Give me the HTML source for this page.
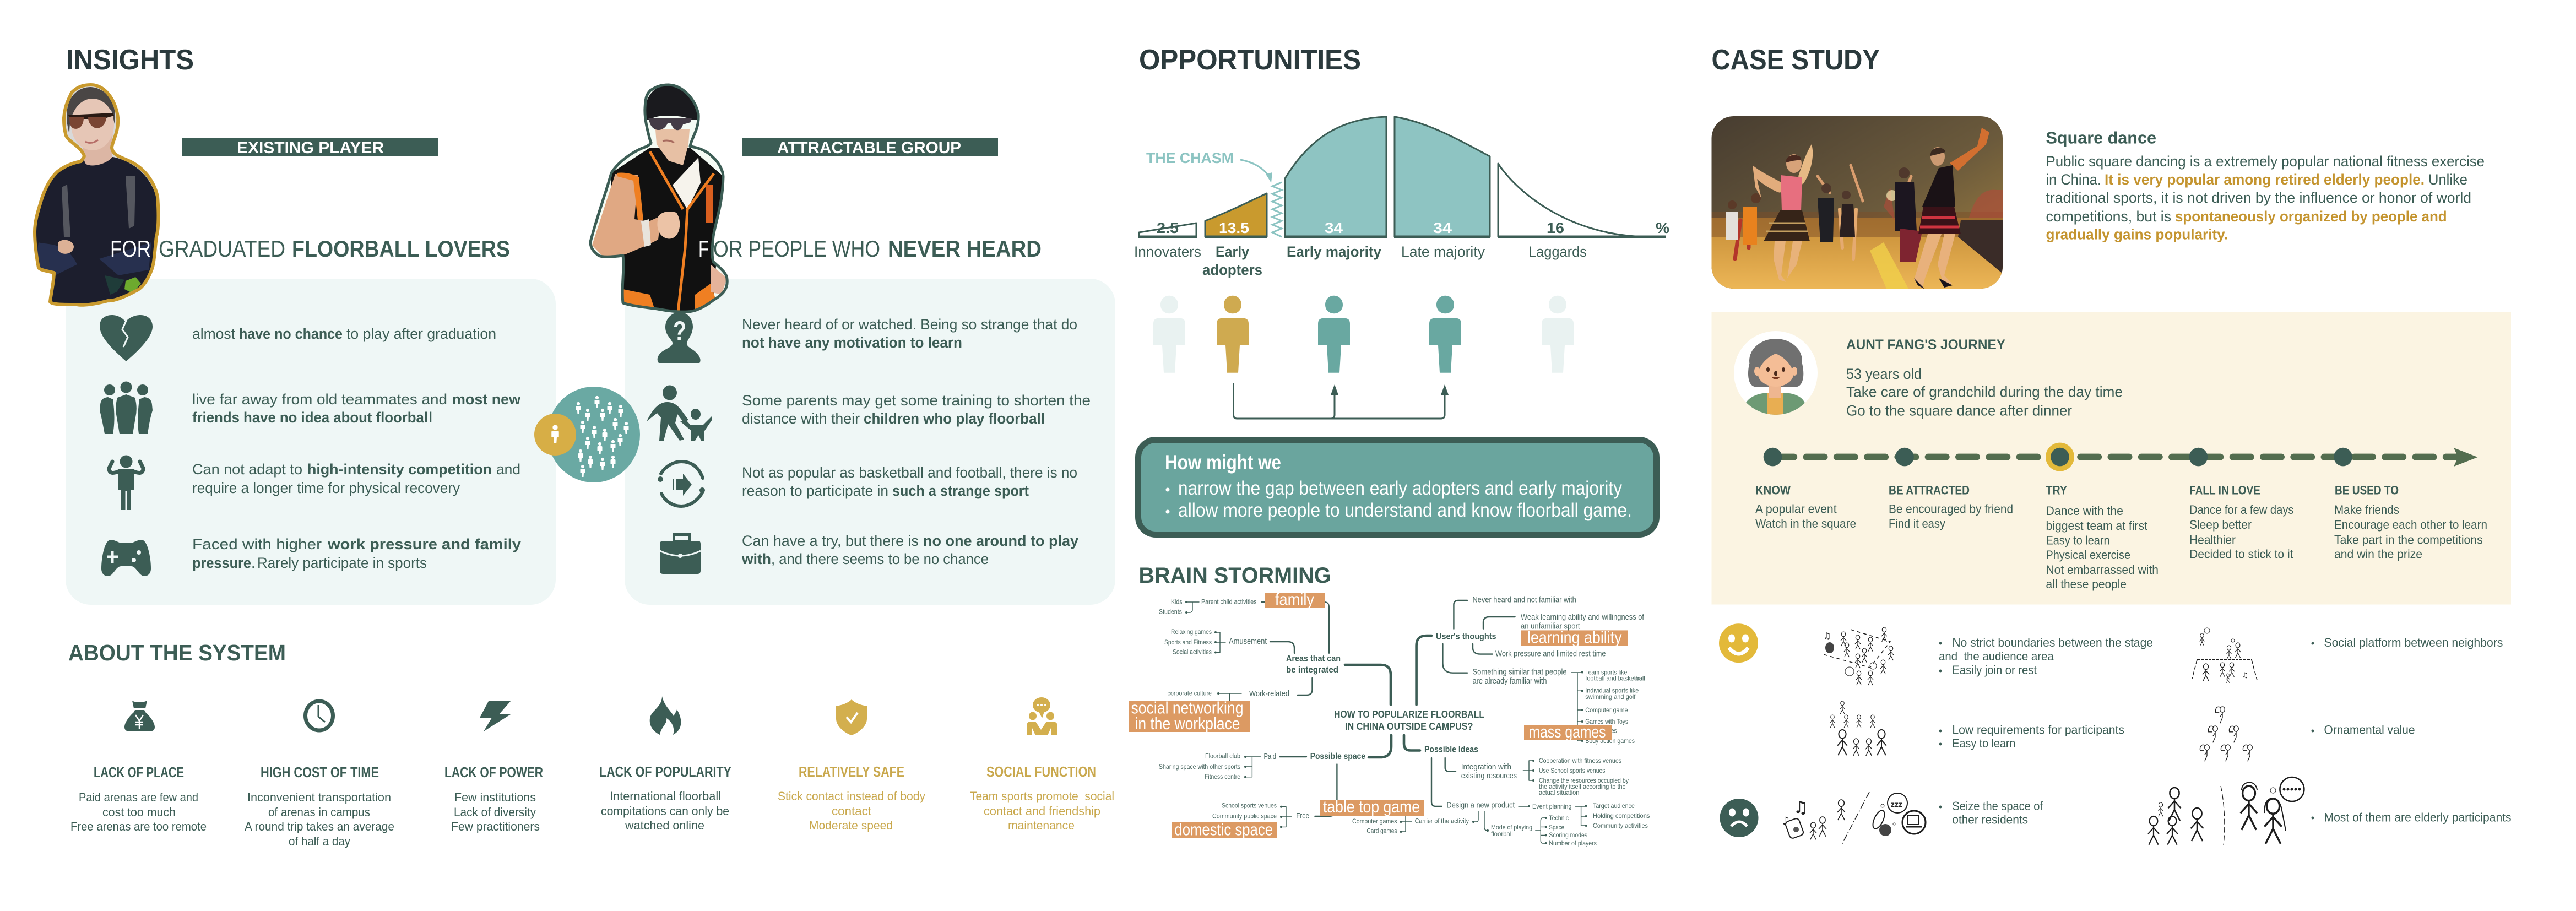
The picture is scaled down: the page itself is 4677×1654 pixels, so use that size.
<!DOCTYPE html>
<html lang="en"><head><meta charset="utf-8"><title>Floorball research board</title>
<style>
html,body{margin:0;padding:0;background:#fff}
svg{display:block}
text{font-family:"Liberation Sans",Arial,sans-serif;fill:#3c5d55;white-space:pre}
.b{font-weight:700}
.h1{font-size:52px;font-weight:700;fill:#2b3a3d}
.h2{font-size:41px}
.h3{font-size:42px}
.ban{font-size:30px;font-weight:700;fill:#fff}
.p{font-size:27px}
.t{font-size:30px;font-weight:700}
.s{font-size:22px}
.sh{font-size:31px;font-weight:700}
.go,.go *{fill:#c9a84d}
.w{fill:#fff}
.m{font-size:12px;fill:#4b6862}
.m2{font-size:14.5px;fill:#4b6862}
.mb{font-size:16px;font-weight:700}
.tag{font-size:31px;fill:#fff}
.c{fill:none;stroke:#3c5d55;stroke-linecap:round;stroke-linejoin:round}
.c1{stroke-width:1.4}.c2{stroke-width:2.4}.c3{stroke-width:4.6}
.k{fill:#3c5d55}
.o{fill:#dc9a63}
.cg{font-size:27px;font-weight:700;fill:#c4942f}
</style></head><body>
<svg xmlns="http://www.w3.org/2000/svg" width="4677" height="1654" viewBox="0 0 4677 1654">
<defs>
<g id="sp"><circle cx="0" cy="-8" r="3.1"/><path d="M-3 -4H3Q4.500 -4 4.500 -2.500V4H2L1.500 11H-1.500L-2 4H-4.500V-2.500Q-4.500 -4 -3 -4Z"/></g>
<path id="bp" d="M0 0C9 0 16 7 16 16.500C16 26 9 32.500 0 32.500C-9 32.500 -16 26 -16 16.500C-16 7 -9 0 0 0ZM-19 41H19Q29 41 29 51V90H13L10 140H-10L-13 90H-29V51Q-29 41 -19 41Z"/>
<g id="st" fill="none" stroke="#1d1d1d" stroke-width="1.800"><ellipse cx="0" cy="7" rx="6" ry="7"/><path d="M0 14V28M0 17L-8 26M0 17L8 26M0 28L-7 42M0 28L7 42"/></g>
<g id="st2" fill="none" stroke="#1d1d1d" stroke-width="1.800"><ellipse cx="0" cy="7" rx="6" ry="7"/><path d="M-5 2C-14 -3 -19 6 -17 15H-8M0 14V28M0 17L-6 26M0 28L-6 42"/></g>
<clipPath id="cw"><path d="M165 154C195 154 212 190 214 214C216 240 204 255 203 268C204 280 215 284 232 291C262 304 280 330 286 357C289 395 287 420 284 429C280 465 280 480 274 493C265 515 255 525 245 529C225 540 205 547 196 546C170 553 150 555 140 553C110 553 95 553 91 548C93 530 98 510 98 495C85 492 72 490 70 486C65 460 63 440 63 421C63 400 70 380 77 357C85 335 95 320 105 311C120 300 135 295 147 293C152 285 155 285 151 279C145 265 120 255 119 243C116 230 116 222 116 214C118 190 125 180 130 168C140 158 150 154 165 154Z"/></clipPath>
<clipPath id="cm"><path d="M1214 154C1240 155 1262 180 1268 207C1270 235 1255 250 1253 266C1270 268 1285 275 1295 286C1305 295 1313 310 1313 321C1312 370 1300 400 1295 429C1293 450 1292 465 1295 475C1305 485 1320 495 1320 507C1322 525 1312 535 1295 545C1285 553 1265 566 1248 566C1230 567 1210 564 1194 561C1170 558 1145 555 1131 550C1128 520 1134 490 1131 464C1115 466 1095 468 1087 464C1075 455 1072 448 1072 439C1085 390 1100 350 1110 314C1125 290 1155 272 1174 266C1180 262 1184 260 1181 257C1175 235 1170 215 1171 196C1172 175 1175 170 1181 164C1192 157 1200 154 1214 154Z"/></clipPath>
<clipPath id="cp"><rect x="3107.500" y="211" width="528.500" height="313" rx="40"/></clipPath>
<clipPath id="ca"><circle cx="3224" cy="677" r="76"/></clipPath>
<linearGradient id="sky" x1="0" y1="0" x2="1" y2="1"><stop offset="0" stop-color="#463c30"/><stop offset=".55" stop-color="#6b5a3c"/><stop offset="1" stop-color="#a8853f"/></linearGradient>
<linearGradient id="gr" x1="0" y1="0" x2="0" y2="1"><stop offset="0" stop-color="#c48b36"/><stop offset="1" stop-color="#eeb858"/></linearGradient>
</defs>

<rect width="4677" height="1654" fill="#fff"/>

<!-- INSIGHTS -->
<text class="h1" x="120" y="126" textLength="232" lengthAdjust="spacingAndGlyphs">INSIGHTS</text>
<rect x="119" y="506" width="890" height="592" rx="46" fill="#eff7f6"/>
<rect x="1134" y="506" width="891" height="592" rx="46" fill="#eff7f6"/>

<!-- woman -->
<g clip-path="url(#cw)">
<rect x="60" y="150" width="230" height="410" fill="#d9d9d9"/>
<path d="M147 290L205 285C240 292 282 320 288 380V560H60V400C70 340 100 300 147 290Z" fill="#1c1e2d"/>
<path d="M112 340L122 335L128 430H116ZM228 320L246 320L244 410L234 415Z" fill="#55575f"/>
<path d="M70 440C85 445 120 438 140 480L100 500H60Z" fill="#27304f"/>
<path d="M180 470L275 440L270 490L215 500Z" fill="#27304f"/>
<path d="M106 440C113 432 133 435 134 448C133 462 113 465 106 455Z" fill="#dcb196"/>
<path d="M150 240C150 262 148 285 156 298C170 305 196 296 204 285C202 265 205 245 205 232Z" fill="#dcb6a4"/>
<path d="M122 225C116 178 140 158 165 158C195 160 214 190 208 225L202 200C190 190 160 188 140 198C128 205 126 225 126 245Z" fill="#4a4645"/>
<ellipse cx="168" cy="226" rx="39" ry="47" fill="#e6c6b6"/>
<path d="M124 209L205 205L207 210L193 214L160 216L150 216L126 214Z" fill="#2a1a14"/>
<path d="M126 213H152C152 232 140 236 133 233C127 230 126 222 126 213ZM160 213H193C192 230 178 236 170 231C163 227 160 220 160 213Z" fill="#7a4533"/>
<path d="M155 257Q166 263 178 254" stroke="#b66d68" stroke-width="3" fill="none"/>
<path d="M228 510L246 503L256 515L240 532L226 525Z" fill="#6daa2e"/>
<path d="M190 500L226 508L212 530L200 535Z" fill="#1f3c39"/>
</g>
<path class="c" style="stroke:#c99a2e;stroke-width:6" d="M165 154C195 154 212 190 214 214C216 240 204 255 203 268C204 280 215 284 232 291C262 304 280 330 286 357C289 395 287 420 284 429C280 465 280 480 274 493C265 515 255 525 245 529C225 540 205 547 196 546C170 553 150 555 140 553C110 553 95 553 91 548C93 530 98 510 98 495C85 492 72 490 70 486C65 460 63 440 63 421C63 400 70 380 77 357C85 335 95 320 105 311C120 300 135 295 147 293C152 285 155 285 151 279C145 265 120 255 119 243C116 230 116 222 116 214C118 190 125 180 130 168C140 158 150 154 165 154Z"/>

<rect x="331" y="250" width="465" height="34" fill="#3c5d55"/>
<text class="ban" x="430" y="278" textLength="267" lengthAdjust="spacingAndGlyphs">EXISTING PLAYER</text>
<text class="h3 w" x="200" y="466" textLength="74" lengthAdjust="spacingAndGlyphs">FOR</text>
<text class="h3" x="288" y="466" textLength="230" lengthAdjust="spacingAndGlyphs">GRADUATED</text>
<text class="h3 b" x="530" y="466" textLength="396" lengthAdjust="spacingAndGlyphs">FLOORBALL LOVERS</text>

<!-- left icons -->
<path class="k" d="M229 656C205 635 181 612 181 592C181 578 192 572 203 572C214 572 222 577 228 584C234 577 244 572 255 572C268 572 277 580 277 593C277 612 252 636 229 656Z"/>
<path d="M230 580L222 598L232 612L224 630" fill="none" stroke="#eff7f6" stroke-width="3"/>
<g class="k">
<circle cx="199" cy="708" r="10"/><circle cx="229" cy="703" r="10.500"/><circle cx="259" cy="708" r="10"/>
<path d="M182 735Q183 722 196 721L205 725Q210 760 205 788H190Q185 760 181 745Z"/>
<path d="M213 722L229 716L245 722Q250 740 246 758L241 788H217L212 758Q208 740 213 722Z"/>
<path d="M276 735Q275 722 262 721L253 725Q248 760 252 788H268Q272 760 277 745Z"/>
<circle cx="229" cy="838" r="11.500"/>
<path d="M215 851H243V890H238V926H230.500V892H227.500V926H220V890H215Z"/>
</g>
<path class="c" style="stroke-width:7" d="M215 856C205 860 198 860 198 850L204 838M243 856C253 860 260 860 260 850L254 838"/>
<path class="k" d="M200 980C210 980 215 986 222 986H236C243 986 248 980 258 980C268 982 274 1012 274 1032C274 1042 268 1046 262 1046C252 1046 248 1028 238 1028H220C210 1028 206 1046 196 1046C190 1046 184 1042 184 1032C184 1012 190 982 200 980Z"/>
<path d="M204 1000V1022M194 1011H215" stroke="#eff7f6" stroke-width="5"/>
<circle cx="252" cy="1003" r="4" fill="#eff7f6"/><circle cx="243" cy="1017" r="4" fill="#eff7f6"/>

<!-- left text -->
<text class="p" x="349" y="615" textLength="78" lengthAdjust="spacingAndGlyphs">almost</text>
<text class="p b" x="434" y="615" textLength="188" lengthAdjust="spacingAndGlyphs">have no chance</text>
<text class="p" x="629" y="615" textLength="272" lengthAdjust="spacingAndGlyphs">to play after graduation</text>
<text class="p" x="349" y="734" textLength="463" lengthAdjust="spacingAndGlyphs">live far away from old teammates and</text>
<text class="p b" x="821" y="734" textLength="124" lengthAdjust="spacingAndGlyphs">most new</text>
<text class="p b" x="349" y="767" textLength="428" lengthAdjust="spacingAndGlyphs">friends have no idea about floorbal</text>
<text class="p" x="779" y="767">l</text>
<text class="p" x="349" y="861" textLength="200" lengthAdjust="spacingAndGlyphs">Can not adapt to</text>
<text class="p b" x="558" y="861" textLength="335" lengthAdjust="spacingAndGlyphs">high-intensity competition</text>
<text class="p" x="901" y="861" textLength="44" lengthAdjust="spacingAndGlyphs">and</text>
<text class="p" x="349" y="895" textLength="486" lengthAdjust="spacingAndGlyphs">require a longer time for physical recovery</text>
<text class="p" x="349" y="997" textLength="235" lengthAdjust="spacingAndGlyphs">Faced with higher</text>
<text class="p b" x="595" y="997" textLength="351" lengthAdjust="spacingAndGlyphs">work pressure and family</text>
<text class="p b" x="349" y="1031" textLength="107" lengthAdjust="spacingAndGlyphs">pressure</text>
<text class="p" x="456" y="1031">.</text>
<text class="p" x="467" y="1031" textLength="308" lengthAdjust="spacingAndGlyphs">Rarely participate in sports</text>

<!-- centre circle -->
<ellipse cx="1078" cy="789" rx="84" ry="87" fill="#6aa9a3"/>
<ellipse cx="1008" cy="789" rx="38" ry="38" fill="#d7ae46"/>
<g fill="#fff">
<use href="#sp" transform="translate(1008 788) scale(1.500)"/>
<use href="#sp" x="1084" y="730"/><use href="#sp" x="1050" y="741"/><use href="#sp" x="1067" y="753"/><use href="#sp" x="1107" y="741"/><use href="#sp" x="1127" y="746"/><use href="#sp" x="1094" y="753"/><use href="#sp" x="1117" y="770"/><use href="#sp" x="1058" y="775"/><use href="#sp" x="1137" y="777"/><use href="#sp" x="1079" y="784"/><use href="#sp" x="1098" y="789"/><use href="#sp" x="1067" y="804"/><use href="#sp" x="1126" y="799"/><use href="#sp" x="1113" y="810"/><use href="#sp" x="1089" y="814"/><use href="#sp" x="1054" y="827"/><use href="#sp" x="1072" y="838"/><use href="#sp" x="1094" y="842"/><use href="#sp" x="1113" y="838"/><use href="#sp" x="1058" y="855"/>
</g>

<!-- man -->
<g clip-path="url(#cm)">
<rect x="1070" y="150" width="255" height="420" fill="#f4fbf4"/>
<path d="M1110 314L1180 268L1253 268L1313 320L1295 545L1250 570H1131V464L1110 400Z" fill="#111"/>
<path d="M1221 336L1268 286L1272 332L1248 380Z" fill="#f6f3ec"/>
<path d="M1180 275L1240 380M1296 315L1248 380" stroke="#ef7f22" stroke-width="5" fill="none"/>
<path d="M1117 316L1158 318L1152 398L1178 402L1200 392L1195 435L1175 445L1135 462L1095 466L1075 445Z" fill="#e0a883"/>
<path d="M1120 314C1135 312 1150 316 1160 322L1168 400L1158 400L1150 328L1120 320Z" fill="#ef7f22"/>
<path d="M1248 380L1244 450L1231 566" stroke="#ef7f22" stroke-width="5" fill="none"/>
<path d="M1194 400C1192 388 1210 380 1228 386C1238 400 1236 425 1222 432C1208 438 1190 425 1194 400Z" fill="#ecc3a6"/>
<path d="M1164 402L1178 398L1182 445L1170 448Z" fill="#e8e4dc"/>
<rect x="1282" y="335" width="12" height="70" fill="#d95f1f"/>
<path d="M1131 525L1180 535L1190 566H1131ZM1262 535L1290 515L1300 545L1262 566Z" fill="#ef7f22"/>
<path d="M1290 480L1320 505L1310 535L1290 530Z" fill="#e5b39a"/>
<path d="M1190 235L1252 235L1250 262L1240 300L1214 292L1192 262Z" fill="#e7c0a4"/>
<path d="M1172 218C1166 175 1190 154 1214 154C1245 154 1268 180 1266 218H1254C1250 210 1190 205 1180 218Z" fill="#1a1a1e"/>
<path d="M1177 214H1256L1254 222L1240 226C1236 240 1224 240 1218 224H1212C1205 240 1186 240 1180 224Z" fill="#443c46"/>
<path d="M1203 256Q1214 253 1224 259" stroke="#a76a5e" stroke-width="3" fill="none"/>
</g>
<path class="c" style="stroke-width:5" d="M1214 154C1240 155 1262 180 1268 207C1270 235 1255 250 1253 266C1270 268 1285 275 1295 286C1305 295 1313 310 1313 321C1312 370 1300 400 1295 429C1293 450 1292 465 1295 475C1305 485 1320 495 1320 507C1322 525 1312 535 1295 545C1285 553 1265 566 1248 566C1230 567 1210 564 1194 561C1170 558 1145 555 1131 550C1128 520 1134 490 1131 464C1115 466 1095 468 1087 464C1075 455 1072 448 1072 439C1085 390 1100 350 1110 314C1125 290 1155 272 1174 266C1180 262 1184 260 1181 257C1175 235 1170 215 1171 196C1172 175 1175 170 1181 164C1192 157 1200 154 1214 154Z"/>

<rect x="1347" y="250" width="465" height="34" fill="#3c5d55"/>
<text class="ban" x="1411" y="278" textLength="334" lengthAdjust="spacingAndGlyphs">ATTRACTABLE GROUP</text>
<text class="h3 w" x="1268" y="466" textLength="19" lengthAdjust="spacingAndGlyphs">F</text>
<text class="h3" x="1295" y="466" textLength="303" lengthAdjust="spacingAndGlyphs">OR PEOPLE WHO</text>
<text class="h3 b" x="1612" y="466" textLength="279" lengthAdjust="spacingAndGlyphs">NEVER HEARD</text>

<!-- right icons -->
<path class="k" d="M1234 567C1250 567 1258 580 1258 594C1257 608 1250 614 1247 622C1246 630 1256 632 1264 640C1272 648 1273 655 1270 659H1196C1192 654 1193 647 1200 640C1210 632 1222 630 1221 622C1218 614 1208 608 1208 594C1208 580 1218 567 1234 567Z"/>
<text x="1222" y="618" class="b" style="font-size:50px;fill:#eff7f6" textLength="24" lengthAdjust="spacingAndGlyphs">?</text>
<g class="k">
<ellipse cx="1216" cy="713" rx="13" ry="13.500"/>
<path d="M1174 765C1184 745 1195 729 1213 730C1232 731 1238 748 1250 762L1242 768L1230 752L1226 768L1242 798L1234 800L1213 770L1205 800H1197L1200 758L1193 750Z"/>
<ellipse cx="1263" cy="752" rx="9" ry="10"/>
<path d="M1235 765L1245 762L1254 772L1276 772L1292 756L1293 762L1278 784L1279 800H1273L1268 790L1262 800H1255V782Z"/>
</g>
<path class="c" style="stroke-width:6" d="M1200 860C1208 846 1224 838 1237 838C1254 838 1268 846 1276 868M1276 892C1268 910 1250 919 1237 919C1220 919 1206 908 1201 896"/>
<circle cx="1199" cy="870" r="5" class="k"/><circle cx="1275" cy="890" r="5" class="k"/>
<path class="k" d="M1221 870H1224V890H1221ZM1228 870H1240V860L1256 880L1240 900V890H1228Z"/>
<path class="k" d="M1221 968H1254V982H1268Q1272 982 1272 988V1036Q1272 1042 1266 1042H1204Q1198 1042 1198 1036V988Q1198 982 1204 982H1221Z"/>
<rect x="1226" y="974" width="24" height="7" fill="#eff7f6"/>
<path d="M1198 1000Q1235 1018 1272 1000" fill="none" stroke="#eff7f6" stroke-width="3"/>
<circle cx="1235" cy="1009" r="4" fill="#eff7f6"/>

<!-- right text -->
<text class="p" x="1347" y="598" textLength="609" lengthAdjust="spacingAndGlyphs">Never heard of or watched. Being so strange that do</text>
<text class="p b" x="1347" y="631" textLength="400" lengthAdjust="spacingAndGlyphs">not have any motivation to learn</text>
<text class="p" x="1347" y="736" textLength="633" lengthAdjust="spacingAndGlyphs">Some parents may get some training to shorten the</text>
<text class="p" x="1347" y="769" textLength="214" lengthAdjust="spacingAndGlyphs">distance with their</text>
<text class="p b" x="1568" y="769" textLength="329" lengthAdjust="spacingAndGlyphs">children who play floorball</text>
<text class="p" x="1347" y="867" textLength="609" lengthAdjust="spacingAndGlyphs">Not as popular as basketball and football, there is no</text>
<text class="p" x="1347" y="900" textLength="266" lengthAdjust="spacingAndGlyphs">reason to participate in</text>
<text class="p b" x="1620" y="900" textLength="248" lengthAdjust="spacingAndGlyphs">such a strange sport</text>
<text class="p" x="1347" y="991" textLength="321" lengthAdjust="spacingAndGlyphs">Can have a try, but there is</text>
<text class="p b" x="1676" y="991" textLength="282" lengthAdjust="spacingAndGlyphs">no one around to play</text>
<text class="p b" x="1347" y="1024" textLength="53" lengthAdjust="spacingAndGlyphs">with</text>
<text class="p" x="1400" y="1024" textLength="395" lengthAdjust="spacingAndGlyphs">, and there seems to be no chance</text>

<!-- ABOUT THE SYSTEM -->
<text class="h2 b" x="124" y="1199" textLength="395" lengthAdjust="spacingAndGlyphs">ABOUT THE SYSTEM</text>
<path class="k" d="M240 1272C246 1276 260 1276 267 1272L264 1286H243ZM245 1289H262L264 1293C272 1300 281 1312 281 1320C281 1326 277 1328 270 1328H236C230 1328 226 1326 226 1320C226 1312 235 1300 243 1293Z"/>
<path d="M246 1298L253 1309L260 1298M253 1309V1323M246 1311H260M246 1316H260" stroke="#fff" stroke-width="2.500" fill="none"/>
<ellipse cx="579.500" cy="1299.500" rx="25" ry="26.500" fill="none" stroke="#3c5d55" stroke-width="7"/>
<path d="M578 1280V1301L590 1311" fill="none" stroke="#3c5d55" stroke-width="3"/>
<path class="k" d="M887 1273H927L906 1297H927L878 1328L893 1303H871Z"/>
<path class="k" d="M1202 1264C1206 1282 1218 1290 1223 1300C1226 1294 1228 1292 1229 1288C1236 1300 1238 1310 1235 1320C1232 1328 1226 1332 1222 1334C1226 1322 1220 1310 1210 1304C1212 1314 1200 1320 1198 1334C1186 1328 1178 1318 1180 1304C1182 1290 1202 1284 1202 1264Z"/>
<path d="M1546 1270C1552 1276 1562 1280 1574 1282V1305C1574 1318 1560 1330 1546 1335C1532 1330 1518 1318 1518 1305V1282C1530 1280 1540 1276 1546 1270Z" fill="#d3af4e"/>
<path d="M1537 1302L1545 1311L1557 1294" fill="none" stroke="#fff" stroke-width="4"/>
<g fill="#d3af4e">
<ellipse cx="1891" cy="1280" rx="16" ry="14"/><path d="M1886 1292L1892 1304L1896 1292Z"/>
<ellipse cx="1875" cy="1300" rx="7" ry="7.500"/><ellipse cx="1907" cy="1300" rx="7" ry="7.500"/>
<path d="M1864 1335V1318Q1864 1310 1872 1310L1880 1310L1890 1325L1900 1310H1910Q1920 1310 1920 1318V1335H1908V1322L1902 1335H1880L1874 1322V1335Z"/>
</g>
<g fill="#fff"><circle cx="1884" cy="1280" r="2"/><circle cx="1891" cy="1280" r="2"/><circle cx="1898" cy="1280" r="2"/></g>

<text class="t" style="font-size:26px" x="170" y="1411" textLength="164" lengthAdjust="spacingAndGlyphs">LACK OF PLACE</text>
<text class="t" style="font-size:26px" x="473" y="1411" textLength="215" lengthAdjust="spacingAndGlyphs">HIGH COST OF TIME</text>
<text class="t" style="font-size:26px" x="807" y="1411" textLength="179" lengthAdjust="spacingAndGlyphs">LACK OF POWER</text>
<text class="t" style="font-size:26px" x="1088" y="1410" textLength="240" lengthAdjust="spacingAndGlyphs">LACK OF POPULARITY</text>
<text class="t go" style="font-size:26px" x="1450" y="1410" textLength="192" lengthAdjust="spacingAndGlyphs">RELATIVELY SAFE</text>
<text class="t go" style="font-size:26px" x="1791" y="1410" textLength="199" lengthAdjust="spacingAndGlyphs">SOCIAL FUNCTION</text>

<text class="s" x="143" y="1455" textLength="217" lengthAdjust="spacingAndGlyphs">Paid arenas are few and</text>
<text class="s" x="186" y="1482" textLength="133" lengthAdjust="spacingAndGlyphs">cost too much</text>
<text class="s" x="128" y="1508" textLength="247" lengthAdjust="spacingAndGlyphs">Free arenas are too remote</text>
<text class="s" x="449" y="1455" textLength="261" lengthAdjust="spacingAndGlyphs">Inconvenient transportation</text>
<text class="s" x="487" y="1482" textLength="185" lengthAdjust="spacingAndGlyphs">of arenas in campus</text>
<text class="s" x="444" y="1508" textLength="272" lengthAdjust="spacingAndGlyphs">A round trip takes an average</text>
<text class="s" x="524" y="1535" textLength="112" lengthAdjust="spacingAndGlyphs">of half a day</text>
<text class="s" x="825" y="1455" textLength="148" lengthAdjust="spacingAndGlyphs">Few institutions</text>
<text class="s" x="824" y="1482" textLength="149" lengthAdjust="spacingAndGlyphs">Lack of diversity</text>
<text class="s" x="819" y="1508" textLength="161" lengthAdjust="spacingAndGlyphs">Few practitioners</text>
<text class="s" x="1107" y="1453" textLength="202" lengthAdjust="spacingAndGlyphs">International floorball</text>
<text class="s" x="1091" y="1480" textLength="233" lengthAdjust="spacingAndGlyphs">compitations can only be</text>
<text class="s" x="1135" y="1506" textLength="144" lengthAdjust="spacingAndGlyphs">watched online</text>
<text class="s go" x="1412" y="1453" textLength="268" lengthAdjust="spacingAndGlyphs">Stick contact instead of body</text>
<text class="s go" x="1510" y="1480" textLength="72" lengthAdjust="spacingAndGlyphs">contact</text>
<text class="s go" x="1469" y="1506" textLength="152" lengthAdjust="spacingAndGlyphs">Moderate speed</text>
<text class="s go" x="1761" y="1453" textLength="262" lengthAdjust="spacingAndGlyphs">Team sports promote  social</text>
<text class="s go" x="1786" y="1480" textLength="212" lengthAdjust="spacingAndGlyphs">contact and friendship</text>
<text class="s go" x="1830" y="1506" textLength="121" lengthAdjust="spacingAndGlyphs">maintenance</text>

<!-- OPPORTUNITIES -->
<text class="h1" x="2068" y="126" textLength="403" lengthAdjust="spacingAndGlyphs">OPPORTUNITIES</text>
<g stroke="#3c5d55" stroke-width="3" stroke-linejoin="round">
<path d="M2068 430V422L2172 405V430Z" fill="#fff"/>
<path d="M2188 430V401C2230 385 2270 365 2300 351V430Z" fill="#c99a2e"/>
<path d="M2333 430V324C2375 255 2430 215 2517 212V430Z" fill="#8ec4c2"/>
<path d="M2532 430V212C2595 222 2660 260 2705 284V430Z" fill="#8ec4c2"/>
<path d="M2720 430V297C2755 350 2850 428 2990 430" fill="#fff"/>
</g>
<path d="M2067 430H2173M2187 430H2301M2332 430H2518M2531 430H2706M2719 430H3024" stroke="#3c5d55" stroke-width="5" fill="none"/>
<path d="M2327 331L2310 338L2327 345L2310 352L2327 359L2310 366L2327 373L2310 380L2327 387L2310 394L2327 401L2310 408L2327 415L2310 422L2327 430" fill="none" stroke="#8cc4c2" stroke-width="3"/>
<path d="M2252 290C2280 295 2300 310 2306 325" fill="none" stroke="#8cc4c2" stroke-width="3"/>
<path d="M2308 332L2298 316L2310 313Z" fill="#8cc4c2"/>
<text class="b" style="font-size:27px;fill:#8cc4c2" x="2081" y="296" textLength="159" lengthAdjust="spacingAndGlyphs">THE CHASM</text>
<g class="b" style="font-size:27px">
<text x="2100" y="423" textLength="40" lengthAdjust="spacingAndGlyphs">2.5</text>
<text class="w" x="2213" y="423" textLength="55" lengthAdjust="spacingAndGlyphs">13.5</text>
<text class="w" x="2405" y="423" textLength="33" lengthAdjust="spacingAndGlyphs">34</text>
<text class="w" x="2602" y="423" textLength="34" lengthAdjust="spacingAndGlyphs">34</text>
<text x="2808" y="423" textLength="32" lengthAdjust="spacingAndGlyphs">16</text>
<text x="3006" y="423" textLength="25" lengthAdjust="spacingAndGlyphs">%</text>
</g>
<text class="p" x="2059" y="466" textLength="122" lengthAdjust="spacingAndGlyphs">Innovaters</text>
<text class="p b" x="2207" y="466" textLength="61" lengthAdjust="spacingAndGlyphs">Early</text>
<text class="p b" x="2183" y="499" textLength="109" lengthAdjust="spacingAndGlyphs">adopters</text>
<text class="p b" x="2336" y="466" textLength="172" lengthAdjust="spacingAndGlyphs">Early majority</text>
<text class="p" x="2544" y="466" textLength="152" lengthAdjust="spacingAndGlyphs">Late majority</text>
<text class="p" x="2775" y="466" textLength="106" lengthAdjust="spacingAndGlyphs">Laggards</text>

<use href="#bp" x="2123" y="536.700" fill="#e9f2f1"/>
<use href="#bp" x="2238" y="536.700" fill="#cfaa50"/>
<use href="#bp" x="2422" y="536.700" fill="#69a8a1"/>
<use href="#bp" x="2624" y="536.700" fill="#69a8a1"/>
<use href="#bp" x="2828" y="536.700" fill="#e9f2f1"/>

<path class="c" style="stroke-width:3" d="M2239.500 697V753Q2239.500 760 2246 760H2616Q2623 760 2623 753V713M2423 713V753Q2423 760 2416 760"/>
<path class="k" d="M2423 698L2430 717H2416ZM2623 698L2630 717H2616Z"/>

<rect x="2066.500" y="798.500" width="941" height="172" rx="32" fill="#6aa59e" stroke="#3c5d55" stroke-width="11"/>
<text class="w b" style="font-size:37px" x="2115" y="852" textLength="211" lengthAdjust="spacingAndGlyphs">How might we</text>
<circle cx="2120" cy="889" r="3.500" fill="#fff"/><circle cx="2120" cy="929" r="3.500" fill="#fff"/>
<text class="w" style="font-size:35px" x="2139" y="898" textLength="806" lengthAdjust="spacingAndGlyphs">narrow the gap between early adopters and early majority</text>
<text class="w" style="font-size:35px" x="2139" y="938" textLength="824" lengthAdjust="spacingAndGlyphs">allow more people to understand and know floorball game.</text>

<!-- BRAIN STORMING -->
<text class="b" style="font-size:40px" x="2067.500" y="1058" textLength="349" lengthAdjust="spacingAndGlyphs">BRAIN STORMING</text>

<!-- connectors -->
<g class="c c1" fill="none">
<path d="M2154 1093H2177M2165 1093V1107Q2165 1112 2160 1112H2154"/>
<path d="M2207 1148H2215V1184.500H2207M2207 1166H2225"/>
<path d="M2212 1259H2254M2232.400 1259V1272"/>
<path d="M2261 1374H2288.500M2273.400 1374V1410.700H2261M2261 1392H2273.400"/>
<path d="M2326 1464.700H2335V1501.400H2326M2326 1483H2344.600"/>
<path d="M2543.500 1492H2562.800M2552 1475V1510H2543.500"/>
<path d="M2675 1492H2680Q2684 1492 2684 1488V1472.700"/>
<path d="M2695 1472.700V1503Q2695 1508 2701 1508"/>
<path d="M2853.400 1221H2872.700M2864 1221V1345M2864 1254.200H2872.700M2864 1289H2872.700M2864 1310H2872.700M2864 1345H2872.700"/>
<path d="M2765.400 1399H2784M2780 1381H2776V1417H2784M2776 1381H2784"/>
<path d="M2757 1464H2776"/>
<path d="M2860.400 1464H2879.700M2870.600 1464V1499H2879.700M2870.600 1482H2879.700"/>
<path d="M2787.800 1508H2797.300M2806.700 1485H2801Q2797.300 1485 2797.300 1490V1526Q2797.300 1531 2801 1531H2806.700M2797.300 1501.400H2806.700M2797.300 1516.400H2806.700"/>
</g>
<g class="k">
<circle cx="2154" cy="1093" r="2"/><circle cx="2154" cy="1112" r="2"/><circle cx="2291" cy="1093" r="2"/>
<circle cx="2207" cy="1148" r="2"/><circle cx="2207" cy="1166" r="2"/><circle cx="2207" cy="1184.500" r="2"/>
<circle cx="2212" cy="1259" r="2"/><circle cx="2261" cy="1374" r="2"/><circle cx="2261" cy="1392" r="2"/><circle cx="2261" cy="1410.700" r="2"/>
<circle cx="2326" cy="1464.700" r="2"/><circle cx="2326" cy="1483" r="2"/><circle cx="2326" cy="1501.400" r="2"/>
<circle cx="2543.500" cy="1492" r="2"/><circle cx="2543.500" cy="1510" r="2"/><circle cx="2675" cy="1492" r="2"/><circle cx="2701" cy="1508" r="2"/>
<circle cx="2872.700" cy="1220.500" r="2"/><circle cx="2872.700" cy="1254.200" r="2"/><circle cx="2872.700" cy="1289" r="2"/><circle cx="2872.700" cy="1310" r="2"/><circle cx="2872.700" cy="1345" r="2"/>
<circle cx="2784" cy="1381" r="2"/><circle cx="2784" cy="1399" r="2"/><circle cx="2784" cy="1417" r="2"/>
<circle cx="2776" cy="1464" r="2"/><circle cx="2879.700" cy="1463" r="2"/><circle cx="2879.700" cy="1482" r="2"/><circle cx="2879.700" cy="1499" r="2"/>
<circle cx="2806.700" cy="1485" r="2"/><circle cx="2806.700" cy="1501.400" r="2"/><circle cx="2806.700" cy="1516.400" r="2"/><circle cx="2806.700" cy="1531" r="2"/>
</g>
<g class="c c2" fill="none">
<path d="M2291 1093H2404Q2413 1093 2413 1102V1186" style="stroke-width:2"/>
<path d="M2306 1165H2338Q2350 1165 2350 1177V1186"/>
<path d="M2382.500 1231V1252Q2382.500 1262 2372 1262H2356"/>
<path d="M2323.600 1374H2372"/>
<path d="M2427.400 1387.400V1468Q2427.400 1482 2412 1482H2387.400"/>
<path d="M2639.400 1141.700V1098Q2639.400 1090 2648 1090H2664"/>
<path d="M2693 1141.700V1130Q2693 1120 2704 1120H2750.600"/>
<path d="M2674 1169V1176Q2674 1187.600 2688 1187.600H2709.600"/>
<path d="M2619.400 1169V1204Q2619.400 1221.700 2638 1221.700H2664"/>
<path d="M2623.700 1376V1394Q2623.700 1400.800 2632 1400.800H2643"/>
<path d="M2599 1376V1456Q2599 1464 2607 1464H2617.700"/>
</g>
<g class="c c3" fill="none">
<path d="M2442 1207H2507Q2525 1207 2525 1225V1279.500"/>
<path d="M2571.600 1279.500V1172Q2571.600 1154 2590 1154H2599"/>
<path d="M2526 1334.600V1355Q2526 1375 2506 1375H2485"/>
<path d="M2549 1334.600V1350Q2549 1362.500 2561 1362.500H2578"/>
</g>

<!-- mind map labels -->
<g class="m">
<text class="m" x="2126" y="1096.500" textLength="20.500" lengthAdjust="spacingAndGlyphs">Kids</text>
<text class="m" x="2104" y="1114.500" textLength="42" lengthAdjust="spacingAndGlyphs">Students</text>
<text class="m" x="2181" y="1096.500" textLength="100.500" lengthAdjust="spacingAndGlyphs">Parent child activities</text>
<text class="m" x="2126" y="1151" textLength="74" lengthAdjust="spacingAndGlyphs">Relaxing games</text>
<text class="m" x="2114" y="1170" textLength="86" lengthAdjust="spacingAndGlyphs">Sports and Fitness</text>
<text class="m" x="2129" y="1187.600" textLength="71" lengthAdjust="spacingAndGlyphs">Social activities</text>
<text class="m" x="2119.500" y="1262.600" textLength="80.500" lengthAdjust="spacingAndGlyphs">corporate culture</text>
<text class="m" x="2104" y="1281" textLength="96" lengthAdjust="spacingAndGlyphs" opacity=".35">Social networking in</text>
<text class="m" x="2188" y="1376.700" textLength="64" lengthAdjust="spacingAndGlyphs">Floorball club</text>
<text class="m" x="2104" y="1396" textLength="148" lengthAdjust="spacingAndGlyphs">Sharing space with other sports</text>
<text class="m" x="2187" y="1414" textLength="65" lengthAdjust="spacingAndGlyphs">Fitness centre</text>
<text class="m" x="2218" y="1466.600" textLength="100" lengthAdjust="spacingAndGlyphs">School sports venues</text>
<text class="m" x="2201" y="1485.700" textLength="117" lengthAdjust="spacingAndGlyphs">Community public space</text>
<text class="m" x="2245" y="1504" textLength="73" lengthAdjust="spacingAndGlyphs">Domestic space</text>
<text class="m" x="2455" y="1495" textLength="81.500" lengthAdjust="spacingAndGlyphs">Computer games</text>
<text class="m" x="2481.400" y="1512.500" textLength="55.100" lengthAdjust="spacingAndGlyphs">Card games</text>
<text class="m" x="2568.600" y="1494.600" textLength="98.400" lengthAdjust="spacingAndGlyphs">Carrier of the activity</text>
<text class="m" x="2878.300" y="1224.700" textLength="76.100" lengthAdjust="spacingAndGlyphs">Team sports like</text>
<text class="m" x="2878.300" y="1235.500" textLength="108.400" lengthAdjust="spacingAndGlyphs">football and basketball</text>
<text class="m" x="2957" y="1235.500" textLength="23" lengthAdjust="spacingAndGlyphs">Tennis</text>
<text class="m" x="2878.300" y="1257.700" textLength="97" lengthAdjust="spacingAndGlyphs">Individual sports like</text>
<text class="m" x="2878.300" y="1268.800" textLength="91" lengthAdjust="spacingAndGlyphs">swimming and golf</text>
<text class="m" x="2878.300" y="1292.900" textLength="77.200" lengthAdjust="spacingAndGlyphs">Computer game</text>
<text class="m" x="2878.300" y="1314" textLength="77.700" lengthAdjust="spacingAndGlyphs">Games with Toys</text>
<text class="m" x="2878.300" y="1330.700" textLength="57.200" lengthAdjust="spacingAndGlyphs">Mass games</text>
<text class="m" x="2878.300" y="1349" textLength="89.700" lengthAdjust="spacingAndGlyphs">Body action games</text>
<text class="m" x="2794" y="1385" textLength="150" lengthAdjust="spacingAndGlyphs">Cooperation with fitness venues</text>
<text class="m" x="2794" y="1403" textLength="120.400" lengthAdjust="spacingAndGlyphs">Use School sports venues</text>
<text class="m" x="2794" y="1421" textLength="163" lengthAdjust="spacingAndGlyphs">Change the resources occupied by</text>
<text class="m" x="2794" y="1432" textLength="157.600" lengthAdjust="spacingAndGlyphs">the activity itself according to the</text>
<text class="m" x="2794" y="1443" textLength="73.400" lengthAdjust="spacingAndGlyphs">actual situation</text>
<text class="m" x="2782" y="1468" textLength="71.400" lengthAdjust="spacingAndGlyphs">Event planning</text>
<text class="m" x="2892" y="1467" textLength="75.800" lengthAdjust="spacingAndGlyphs">Target audience</text>
<text class="m" x="2892" y="1485" textLength="103.500" lengthAdjust="spacingAndGlyphs">Holding competitions</text>
<text class="m" x="2892" y="1503" textLength="100" lengthAdjust="spacingAndGlyphs">Community activities</text>
<text class="m" x="2707" y="1506" textLength="75" lengthAdjust="spacingAndGlyphs">Mode of playing</text>
<text class="m" x="2707" y="1518" textLength="39.800" lengthAdjust="spacingAndGlyphs">floorball</text>
<text class="m" x="2812.400" y="1489" textLength="35.600" lengthAdjust="spacingAndGlyphs">Technic</text>
<text class="m" x="2812.400" y="1506" textLength="27.600" lengthAdjust="spacingAndGlyphs">Space</text>
<text class="m" x="2812.400" y="1520" textLength="69.600" lengthAdjust="spacingAndGlyphs">Scoring modes</text>
<text class="m" x="2812.400" y="1535" textLength="86.600" lengthAdjust="spacingAndGlyphs">Number of players</text>
</g>
<g class="m2">
<text class="m2" x="2231" y="1169" textLength="69" lengthAdjust="spacingAndGlyphs">Amusement</text>
<text class="m2" x="2268" y="1264" textLength="73" lengthAdjust="spacingAndGlyphs">Work-related</text>
<text class="m2" x="2294.500" y="1378" textLength="22.500" lengthAdjust="spacingAndGlyphs">Paid</text>
<text class="m2" x="2353.400" y="1486" textLength="23.600" lengthAdjust="spacingAndGlyphs">Free</text>
<text class="m2" x="2673.500" y="1093.500" textLength="188.300" lengthAdjust="spacingAndGlyphs">Never heard and not familiar with</text>
<text class="m2" x="2761" y="1125" textLength="224" lengthAdjust="spacingAndGlyphs">Weak learning ability and willingness of</text>
<text class="m2" x="2761" y="1141.700" textLength="107.500" lengthAdjust="spacingAndGlyphs">an unfamiliar sport</text>
<text class="m2" x="2715" y="1191.400" textLength="200.500" lengthAdjust="spacingAndGlyphs">Work pressure and limited rest time</text>
<text class="m2" x="2673.500" y="1224.700" textLength="171.100" lengthAdjust="spacingAndGlyphs">Something similar that people</text>
<text class="m2" x="2673.500" y="1240.800" textLength="135" lengthAdjust="spacingAndGlyphs">are already familiar with</text>
<text class="m2" x="2652.800" y="1397" textLength="91.200" lengthAdjust="spacingAndGlyphs">Integration with</text>
<text class="m2" x="2652.800" y="1413" textLength="101.200" lengthAdjust="spacingAndGlyphs">existing resources</text>
<text class="m2" x="2626.500" y="1466.600" textLength="123.500" lengthAdjust="spacingAndGlyphs">Design a new product</text>
</g>
<text class="mb" x="2335" y="1200.600" textLength="99" lengthAdjust="spacingAndGlyphs">Areas that can</text>
<text class="mb" x="2335" y="1221" textLength="95" lengthAdjust="spacingAndGlyphs">be integrated</text>
<text class="mb" x="2378.700" y="1378" textLength="100.300" lengthAdjust="spacingAndGlyphs">Possible space</text>
<text class="mb" x="2586" y="1365.600" textLength="98" lengthAdjust="spacingAndGlyphs">Possible Ideas</text>
<text class="mb" x="2607" y="1160.500" textLength="109.600" lengthAdjust="spacingAndGlyphs">User's thoughts</text>
<text class="b" style="font-size:18.500px" x="2422" y="1303" textLength="273" lengthAdjust="spacingAndGlyphs">HOW TO POPULARIZE FLOORBALL</text>
<text class="b" style="font-size:18.500px" x="2442" y="1325" textLength="232.500" lengthAdjust="spacingAndGlyphs">IN CHINA OUTSIDE CAMPUS?</text>

<rect class="o" x="2297" y="1076" width="108" height="28"/>
<rect class="o" x="2050" y="1273" width="219" height="56"/>
<rect class="o" x="2396" y="1452.500" width="190" height="28.500"/>
<rect class="o" x="2128" y="1493" width="190" height="28.700"/>
<rect class="o" x="2761" y="1144.400" width="195" height="27.600"/>
<rect class="o" x="2767" y="1316.600" width="159" height="27.400"/>
<text class="tag" x="2315" y="1098.500" textLength="71" lengthAdjust="spacingAndGlyphs">family</text>
<text class="tag" x="2053.500" y="1295.500" textLength="204" lengthAdjust="spacingAndGlyphs">social networking</text>
<text class="tag" x="2060.500" y="1324" textLength="191" lengthAdjust="spacingAndGlyphs">in the workplace</text>
<text class="tag" x="2402" y="1475" textLength="176" lengthAdjust="spacingAndGlyphs">table top game</text>
<text class="tag" x="2132.400" y="1516.700" textLength="178.600" lengthAdjust="spacingAndGlyphs">domestic space</text>
<text class="tag" x="2773" y="1167.300" textLength="171.600" lengthAdjust="spacingAndGlyphs">learning ability</text>
<text class="tag" x="2775.500" y="1338.800" textLength="140" lengthAdjust="spacingAndGlyphs">mass games</text>

<!-- CASE STUDY -->
<text class="h1" x="3107.500" y="126" textLength="305.500" lengthAdjust="spacingAndGlyphs">CASE STUDY</text>
<g clip-path="url(#cp)">
<rect x="3100" y="205" width="545" height="325" fill="url(#sky)"/>
<rect x="3100" y="395" width="545" height="135" fill="url(#gr)"/>
<path d="M3100 385H3640V430H3100Z" fill="#7c4e28" opacity=".5"/>
<path d="M3420 375L3432 340L3440 400ZM3625 345Q3590 340 3575 395H3640V345Z" fill="#b24a38" opacity=".6"/>
<path d="M3395 455L3425 524H3465L3420 440Z" fill="#f0cf4a" opacity=".8"/>
<path d="M3555 430L3640 500V400H3560Z" fill="#3a2c28"/>
<circle cx="3435" cy="355" r="10" fill="#f9e8b0" opacity=".7"/>
<g stroke-linecap="round" fill="none">
<path d="M3150 470L3160 400M3175 405V450" stroke="#b3362a" stroke-width="7"/>
<path d="M3340 380L3345 450M3370 380L3365 470" stroke="#e5aa70" stroke-width="6"/>
<path d="M3382 365L3360 300M3322 350L3300 320" stroke="#d99d6e" stroke-width="5"/>
<path d="M3450 370L3470 320M3470 380L3460 470" stroke="#d99d6e" stroke-width="5"/>
</g>
<rect x="3165" y="375" width="25" height="70" fill="#e8821e"/>
<rect x="3133" y="385" width="22" height="50" fill="#e4e0da"/>
<circle cx="3188" cy="360" r="9" fill="#5b3a28"/><circle cx="3145" cy="372" r="8" fill="#5b3a28"/>
<path d="M3300 360H3330L3328 440H3305Z" fill="#1f1f24"/><circle cx="3316" cy="342" r="9" fill="#50382c"/>
<path d="M3345 370H3365L3368 430H3340Z" fill="#2a2020"/><circle cx="3352" cy="354" r="8" fill="#50382c"/>
<path d="M3440 330H3475L3480 420H3440Z" fill="#1c1620"/><circle cx="3457" cy="314" r="10" fill="#50382c"/>
<path d="M3450 415L3490 420L3478 475H3450Z" fill="#7e2430"/>
<path d="M3289 262C3296 285 3285 320 3273 335L3265 320C3272 300 3278 280 3289 262Z" fill="#e7b985"/>
<path d="M3182 300C3200 315 3225 325 3240 335L3232 350C3215 345 3195 330 3190 325L3198 360L3187 340Z" fill="#e2ac7c"/>
<path d="M3233 318L3272 322L3270 382H3235Z" fill="#e76f7f"/>
<ellipse cx="3257" cy="297" rx="14" ry="17" fill="#d7a279"/><path d="M3243 295C3240 278 3272 278 3270 290L3255 292Z" fill="#4a2a20"/>
<path d="M3232 382H3272L3286 438H3202Z" fill="#362418"/>
<path d="M3212 405H3277M3207 420H3282" stroke="#c49f60" stroke-width="3"/>
<path d="M3222 438H3242L3234 500L3243 512L3230 508L3220 470ZM3255 438H3272L3262 480L3245 505Z" fill="#e8b27a"/>
<path d="M3598 232L3612 240L3606 262L3555 310L3540 296L3590 265Z" fill="#d26f30"/>
<ellipse cx="3518" cy="284" rx="13" ry="17" fill="#cc9a72"/><path d="M3505 283C3503 266 3530 264 3532 276L3518 280Z" fill="#3c2a20"/>
<path d="M3520 305L3545 300L3550 375H3490Z" fill="#1a1216"/>
<path d="M3492 375H3548L3560 425H3483Z" fill="#3a1218"/>
<path d="M3490 395H3550M3486 412H3556" stroke="#d03440" stroke-width="5"/>
<path d="M3500 425H3525L3495 505L3490 525L3475 508ZM3530 425H3550L3530 500L3545 516L3528 515L3518 480Z" fill="#e8b17c"/>
<path d="M3475 505L3495 525L3482 518ZM3520 505L3545 518L3530 522Z" fill="#17121a"/>
</g>
<text class="b" style="font-size:31px" x="3714.500" y="260.700" textLength="200.500" lengthAdjust="spacingAndGlyphs">Square dance</text>
<text class="p" x="3714.500" y="302" textLength="796.500" lengthAdjust="spacingAndGlyphs">Public square dancing is a extremely popular national fitness exercise</text>
<text class="p" x="3714.500" y="335" textLength="100.500" lengthAdjust="spacingAndGlyphs">in China.</text>
<text class="cg" x="3821" y="335" textLength="581" lengthAdjust="spacingAndGlyphs">It is very popular among retired elderly people.</text>
<text class="p" x="4409" y="335" textLength="71" lengthAdjust="spacingAndGlyphs">Unlike</text>
<text class="p" x="3714.500" y="368" textLength="772.500" lengthAdjust="spacingAndGlyphs">traditional sports, it is not driven by the influence or honor of world</text>
<text class="p" x="3714.500" y="402" textLength="227.500" lengthAdjust="spacingAndGlyphs">competitions, but is</text>
<text class="cg" x="3949" y="402" textLength="493.600" lengthAdjust="spacingAndGlyphs">spontaneously organized by people and</text>
<text class="cg" x="3714.500" y="434.600" textLength="330.500" lengthAdjust="spacingAndGlyphs">gradually gains popularity.</text>

<rect x="3107.500" y="566" width="1451.500" height="531.500" fill="#fbf4e2"/>
<circle cx="3224" cy="677" r="76" fill="#fff"/>
<g clip-path="url(#ca)">
<ellipse cx="3224" cy="655" rx="48" ry="40" fill="#707070"/>
<path d="M3176 660C3170 690 3178 705 3192 702L3258 702C3272 705 3278 685 3272 660Z" fill="#707070"/>
<path d="M3166.500 753V740C3170 722 3190 714 3210 713H3240C3260 714 3278 722 3278.600 740V760H3166.500Z" fill="#6d9a74"/>
<rect x="3208" y="713" width="29" height="45" fill="#e8ae52"/>
<rect x="3212" y="690" width="22" height="32" fill="#eeb690"/>
<path d="M3224 642C3244 650 3256 668 3256 680C3256 692 3240 702 3224 702C3208 702 3192 692 3192 680C3192 668 3204 650 3224 642Z" fill="#f4bd96"/>
<ellipse cx="3190" cy="674" rx="5" ry="8" fill="#f4bd96"/><ellipse cx="3258" cy="674" rx="5" ry="8" fill="#f4bd96"/>
<ellipse cx="3210" cy="671" rx="3" ry="4" fill="#4a2a1c"/><ellipse cx="3238" cy="671" rx="3" ry="4" fill="#4a2a1c"/>
<ellipse cx="3224" cy="678" rx="3" ry="5" fill="#4a2a1c"/><path d="M3216 684Q3224 694 3232 684Z" fill="#7a3a22"/>
</g>
<text class="b" style="font-size:25px" x="3352" y="634" textLength="289" lengthAdjust="spacingAndGlyphs">AUNT FANG'S JOURNEY</text>
<text class="p" x="3352" y="688" textLength="137" lengthAdjust="spacingAndGlyphs">53 years old</text>
<text class="p" x="3352" y="720.700" textLength="502" lengthAdjust="spacingAndGlyphs">Take care of grandchild during the day time</text>
<text class="p" x="3352" y="754.600" textLength="410" lengthAdjust="spacingAndGlyphs">Go to the square dance after dinner</text>

<path d="M3224.200 829.600H4460" fill="none" stroke="#536d4f" stroke-width="12" stroke-linecap="round" stroke-dasharray="33 22.300"/>
<path d="M4455 813L4498.500 830L4455 847L4463 830Z" fill="#536d4f"/>
<g class="k">
<circle cx="3218.500" cy="829.600" r="16.800"/><circle cx="3458" cy="829.600" r="16.800"/><circle cx="3991.400" cy="829.600" r="16.800"/><circle cx="4254" cy="829.600" r="16.800"/>
</g>
<circle cx="3740" cy="829.600" r="26" fill="#e3b93a"/><circle cx="3740" cy="829.600" r="16.800" class="k"/>
<g class="b" style="font-size:22px">
<text x="3187" y="897.500" textLength="64" lengthAdjust="spacingAndGlyphs">KNOW</text>
<text x="3429" y="897.500" textLength="147" lengthAdjust="spacingAndGlyphs">BE ATTRACTED</text>
<text x="3714.500" y="897.500" textLength="38.500" lengthAdjust="spacingAndGlyphs">TRY</text>
<text x="3975" y="897.500" textLength="129" lengthAdjust="spacingAndGlyphs">FALL IN LOVE</text>
<text x="4239" y="897.500" textLength="116" lengthAdjust="spacingAndGlyphs">BE USED TO</text>
</g>
<g class="s">
<text class="s" x="3187" y="931.400" textLength="147.600" lengthAdjust="spacingAndGlyphs">A popular event</text>
<text class="s" x="3187" y="958" textLength="183" lengthAdjust="spacingAndGlyphs">Watch in the square</text>
<text class="s" x="3429" y="931.400" textLength="226" lengthAdjust="spacingAndGlyphs">Be encouraged by friend</text>
<text class="s" x="3429" y="958" textLength="103" lengthAdjust="spacingAndGlyphs">Find it easy</text>
<text class="s" x="3714.500" y="935" textLength="140.500" lengthAdjust="spacingAndGlyphs">Dance with the</text>
<text class="s" x="3714.500" y="961.800" textLength="184.500" lengthAdjust="spacingAndGlyphs">biggest team at first</text>
<text class="s" x="3714.500" y="988.600" textLength="116" lengthAdjust="spacingAndGlyphs">Easy to learn</text>
<text class="s" x="3714.500" y="1015" textLength="153.500" lengthAdjust="spacingAndGlyphs">Physical exercise</text>
<text class="s" x="3714.500" y="1042" textLength="204.500" lengthAdjust="spacingAndGlyphs">Not embarrassed with</text>
<text class="s" x="3714.500" y="1068" textLength="146.500" lengthAdjust="spacingAndGlyphs">all these people</text>
<text class="s" x="3975" y="933" textLength="189.500" lengthAdjust="spacingAndGlyphs">Dance for a few days</text>
<text class="s" x="3975" y="960" textLength="113" lengthAdjust="spacingAndGlyphs">Sleep better</text>
<text class="s" x="3975" y="987.500" textLength="84" lengthAdjust="spacingAndGlyphs">Healthier</text>
<text class="s" x="3975" y="1013.600" textLength="188.500" lengthAdjust="spacingAndGlyphs">Decided to stick to it</text>
<text class="s" x="4238" y="933" textLength="118" lengthAdjust="spacingAndGlyphs">Make friends</text>
<text class="s" x="4238" y="960" textLength="278" lengthAdjust="spacingAndGlyphs">Encourage each other to learn</text>
<text class="s" x="4238" y="987.500" textLength="269.700" lengthAdjust="spacingAndGlyphs">Take part in the competitions</text>
<text class="s" x="4238" y="1013.600" textLength="160" lengthAdjust="spacingAndGlyphs">and win the prize</text>
</g>

<!-- smileys -->
<circle cx="3156.500" cy="1167.700" r="35.500" fill="#e3b93a"/>
<ellipse cx="3144" cy="1159" rx="6" ry="7.500" fill="#fff"/><ellipse cx="3169" cy="1159" rx="6" ry="7.500" fill="#fff"/>
<path d="M3139 1176Q3157 1198 3174 1176" fill="none" stroke="#fff" stroke-width="7"/>
<circle cx="3157.500" cy="1485" r="35" fill="#3c5d55"/>
<ellipse cx="3145" cy="1475" rx="6" ry="7.500" fill="#fff"/><ellipse cx="3170" cy="1475" rx="6" ry="7.500" fill="#fff"/>
<path d="M3143 1500Q3158 1484 3172 1500" fill="none" stroke="#fff" stroke-width="5"/>

<!-- sketches -->
<g>
<use href="#st" transform="translate(3347 1147) scale(.62)"/><use href="#st" transform="translate(3373 1153) scale(.62)"/><use href="#st" transform="translate(3396 1157) scale(.62)"/><use href="#st" transform="translate(3421 1139) scale(.62)"/><use href="#st" transform="translate(3353 1167) scale(.62)"/><use href="#st" transform="translate(3385 1177) scale(.62)"/><use href="#st" transform="translate(3373 1187) scale(.62)"/><use href="#st" transform="translate(3433 1173) scale(.62)"/><use href="#st" transform="translate(3419 1198) scale(.62)"/><use href="#st" transform="translate(3375 1218) scale(.62)"/><use href="#st" transform="translate(3396 1218) scale(.62)"/>
<path d="M3360 1143L3432 1165L3395 1212L3310 1188" fill="none" stroke="#1d1d1d" stroke-width="1.500" stroke-dasharray="6 6"/>
<ellipse cx="3322" cy="1176" rx="8" ry="10" fill="#444"/><circle cx="3358" cy="1219" r="8" fill="none" stroke="#333"/><circle cx="3401" cy="1209" r="6" fill="none" stroke="#333"/>
<text x="3310" y="1160" style="font-size:16px;fill:#222;font-family:'DejaVu Sans',sans-serif">♫</text>

<use href="#st" transform="translate(3998 1150) scale(.55)"/><use href="#st" transform="translate(4063 1167) scale(.65)"/><use href="#st" transform="translate(4047 1172) scale(.6)"/><use href="#st" transform="translate(4005 1205) scale(.75)"/><use href="#st" transform="translate(4035 1203) scale(.62)"/><use href="#st" transform="translate(4052 1203) scale(.62)"/><use href="#st" transform="translate(4045 1223) scale(.4)"/>
<path d="M3989 1198H4088" stroke="#1d1d1d" stroke-width="2" stroke-dasharray="5 2"/>
<path d="M3989 1198L3980 1232M4088 1198L4098 1235" stroke="#1d1d1d" stroke-width="1.500" stroke-dasharray="7 4"/>
<circle cx="4007" cy="1145" r="5" fill="none" stroke="#333"/><circle cx="4054" cy="1163" r="3" fill="none" stroke="#333"/>
<text x="4070" y="1230" style="font-size:13px;fill:#222;font-family:'DejaVu Sans',sans-serif">♫</text>

<use href="#st" transform="translate(3345 1273) scale(.55)"/><use href="#st" transform="translate(3327 1298) scale(.55)"/><use href="#st" transform="translate(3352 1298) scale(.55)"/><use href="#st" transform="translate(3375 1298) scale(.55)"/><use href="#st" transform="translate(3400 1298) scale(.55)"/><use href="#st" transform="translate(3345 1325) scale(1.100)"/><use href="#st" transform="translate(3416 1325) scale(1.100)"/><use href="#st" transform="translate(3370 1341) scale(.74)"/><use href="#st" transform="translate(3393 1341) scale(.74)"/>

<use href="#st2" transform="translate(4035 1283) scale(.72)"/><use href="#st2" transform="translate(4022 1318) scale(.72)"/><use href="#st2" transform="translate(4060 1318) scale(.72)"/><use href="#st2" transform="translate(4007 1352) scale(.72)"/><use href="#st2" transform="translate(4045 1352) scale(.72)"/><use href="#st2" transform="translate(4085 1352) scale(.72)"/>

<path d="M3394 1438L3343 1535" fill="none" stroke="#1d1d1d" stroke-width="1.500" stroke-dasharray="12 4 2 4"/>
<use href="#st" transform="translate(3343 1452) scale(.88)"/><use href="#st" transform="translate(3292 1493) scale(.75)"/><use href="#st" transform="translate(3309 1483) scale(.85)"/>
<rect x="3245" y="1488" width="26" height="32" rx="6" fill="none" stroke="#1d1d1d" stroke-width="2" transform="rotate(-20 3258 1504)"/><circle cx="3261" cy="1506" r="5" fill="#555"/>
<text x="3256" y="1476" style="font-size:30px;fill:#222;font-family:'DejaVu Sans',sans-serif">♫</text>
<text x="3236" y="1497" style="font-size:20px;fill:#222;font-family:'DejaVu Sans',sans-serif">♪</text>
<circle cx="3445" cy="1458" r="18" fill="#fff" stroke="#1d1d1d" stroke-width="2"/><text x="3433" y="1465" style="font-size:14px;fill:#222" class="b">zzz</text>
<circle cx="3475" cy="1493" r="21" fill="#fff" stroke="#1d1d1d" stroke-width="3"/><rect x="3464" y="1481" width="20" height="16" fill="none" stroke="#1d1d1d" stroke-width="2"/><path d="M3460 1501H3490" stroke="#1d1d1d" stroke-width="3"/>
<ellipse cx="3411" cy="1488" rx="8" ry="18" fill="none" stroke="#1d1d1d" stroke-width="2" transform="rotate(25 3411 1488)"/>
<circle cx="3423" cy="1507" r="11" fill="#444"/><circle cx="3418" cy="1463" r="3" fill="none" stroke="#333"/><circle cx="3439" cy="1496" r="2" fill="none" stroke="#333"/>

<path d="M4032 1427C4040 1465 4040 1505 4037 1535" fill="none" stroke="#1d1d1d" stroke-width="1.200" stroke-dasharray="10 5"/>
<use href="#st" transform="translate(3948 1430) scale(1.430)"/><use href="#st" transform="translate(3923 1457) scale(.6)"/><use href="#st" transform="translate(3989 1467) scale(1.430)"/><use href="#st" transform="translate(3910 1482) scale(1.230)"/><use href="#st" transform="translate(3944 1482) scale(1.230)"/><use href="#st" transform="translate(4083 1427) scale(1.900)"/><use href="#st" transform="translate(4127 1450) scale(1.950)"/>
<path d="M4070 1434C4070 1418 4095 1414 4098 1434M4112 1476C4108 1445 4135 1440 4142 1466L4150 1508" fill="none" stroke="#1d1d1d" stroke-width="2"/>
<circle cx="4161.400" cy="1433" r="22" fill="#fff" stroke="#1d1d1d" stroke-width="2.500"/><circle cx="4127" cy="1435" r="5" fill="none" stroke="#1d1d1d"/>
<g fill="#1d1d1d"><circle cx="4147" cy="1433" r="2.500"/><circle cx="4154" cy="1433" r="2.500"/><circle cx="4161" cy="1433" r="2.500"/><circle cx="4168" cy="1433" r="2.500"/><circle cx="4175" cy="1433" r="2.500"/></g>
</g>

<g class="k"><circle cx="3523" cy="1168" r="2.500"/><circle cx="3523" cy="1218" r="2.500"/><circle cx="3523" cy="1327" r="2.500"/><circle cx="3523" cy="1351" r="2.500"/><circle cx="3523" cy="1465" r="2.500"/><circle cx="4199" cy="1168" r="2.500"/><circle cx="4199" cy="1327" r="2.500"/><circle cx="4199" cy="1485" r="2.500"/></g>
<text class="s" x="3544.400" y="1174" textLength="364.600" lengthAdjust="spacingAndGlyphs">No strict boundaries between the stage</text>
<text class="s" x="3520" y="1199" textLength="208.700" lengthAdjust="spacingAndGlyphs">and  the audience area</text>
<text class="s" x="3544.400" y="1224" textLength="153.600" lengthAdjust="spacingAndGlyphs">Easily join or rest</text>
<text class="s" x="3544.400" y="1332.700" textLength="312.600" lengthAdjust="spacingAndGlyphs">Low requirements for participants</text>
<text class="s" x="3544.400" y="1357" textLength="115" lengthAdjust="spacingAndGlyphs">Easy to learn</text>
<text class="s" x="3544.400" y="1471" textLength="164.600" lengthAdjust="spacingAndGlyphs">Seize the space of</text>
<text class="s" x="3544.400" y="1495.700" textLength="137.600" lengthAdjust="spacingAndGlyphs">other residents</text>
<text class="s" x="4219.500" y="1174" textLength="324.900" lengthAdjust="spacingAndGlyphs">Social platform between neighbors</text>
<text class="s" x="4219.500" y="1332.700" textLength="165" lengthAdjust="spacingAndGlyphs">Ornamental value</text>
<text class="s" x="4219.500" y="1491.700" textLength="340.100" lengthAdjust="spacingAndGlyphs">Most of them are elderly participants</text>
</svg>
</body></html>
